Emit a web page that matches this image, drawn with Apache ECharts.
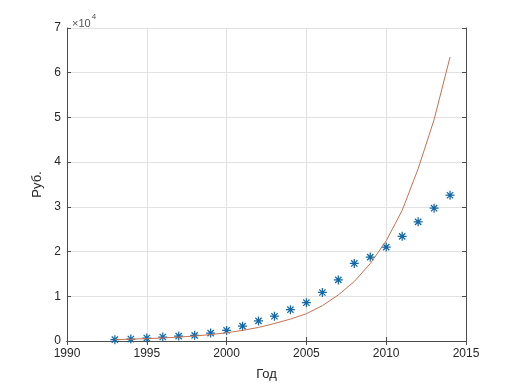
<!DOCTYPE html>
<html>
<head>
<meta charset="utf-8">
<script src="https://cdn.jsdelivr.net/npm/echarts@6/dist/echarts.min.js"></script>
<style>html,body{margin:0;padding:0;background:#fff;}#c{width:515px;height:386px;}</style>
</head>
<body>
<div id="c"></div>
<script>
// Data
var years = [1993,1994,1995,1996,1997,1998,1999,2000,2001,2002,2003,2004,2005,2006,2007,2008,2009,2010,2011,2012,2013,2014];
var actual = [300,440,660,890,1100,1260,1770,2360,3320,4500,5540,7000,8570,10850,13670,17350,18760,21000,23400,26650,29700,32600];
var fitted = [320,410,525,675,870,1115,1430,1840,2370,3040,3910,4900,6100,7900,10300,13300,17300,22400,29200,38500,49500,63500];
var xTicks = [1990,1995,2000,2005,2010,2015];
var yTicks = [0,1,2,3,4,5,6,7];

var axisColor = '#4d4d4d';
var textColor = '#262626';
var font = 'Liberation Sans, Arial, sans-serif';

var star = 'path://M-0.7,-5L0.7,-5L0.7,5L-0.7,5Z M-5,-0.7L5,-0.7L5,0.7L-5,0.7Z M-3.005,-3.995L3.995,3.005L3.005,3.995L-3.995,-3.005Z M3.995,-3.005L-3.005,3.995L-3.995,3.005L3.005,-3.995Z';

var chart = echarts.init(document.getElementById('c'), null, {renderer: 'canvas'});
var common = {
  axisLine: {show: true, lineStyle: {color: axisColor, width: 1}},
  axisTick: {show: true, inside: true, length: 4, lineStyle: {color: axisColor}},
};
chart.setOption({
  animation: false,
  backgroundColor: '#fff',
  grid: {left: 67, top: 28, right: 49, bottom: 42, containLabel: false},
  title: {
    text: '{a|×10}{b|4}',
    left: 67, top: 8,
    textStyle: {fontWeight: 'normal', rich: {
      a: {fontFamily: font, fontSize: 11, fontWeight: 'normal', color: '#555', verticalAlign: 'bottom', lineHeight: 16},
      b: {fontFamily: font, fontSize: 8, fontWeight: 'normal', color: '#555', verticalAlign: 'top', lineHeight: 16, padding: [0,0,7,1]}
    }}
  },
  xAxis: [
    Object.assign({
      type: 'value', min: xTicks[0], max: xTicks[xTicks.length-1], interval: 5,
      position: 'bottom',
      name: 'Год', nameLocation: 'middle', nameGap: 27,
      nameTextStyle: {fontFamily: font, fontSize: 13, color: textColor},
      axisLabel: {fontFamily: font, fontSize: 12, color: textColor, margin: 7,
        formatter: function(v){ return String(v); }},
      splitLine: {show: true, lineStyle: {color: '#e2e2e2', width: 1}}
    }, common),
    Object.assign({
      type: 'value', min: xTicks[0], max: xTicks[xTicks.length-1], interval: 5,
      position: 'top', axisLabel: {show: false}, splitLine: {show: false}
    }, common)
  ],
  yAxis: [
    Object.assign({
      type: 'value', min: 0, max: yTicks[yTicks.length-1]*10000, interval: 10000,
      position: 'left',
      name: 'Руб.', nameLocation: 'middle', nameGap: 17,
      nameTextStyle: {fontFamily: font, fontSize: 13, color: textColor},
      axisLabel: {fontFamily: font, fontSize: 12, color: textColor, margin: 6,
        formatter: function(v){ return String(v/10000); }},
      splitLine: {show: true, lineStyle: {color: '#e2e2e2', width: 1}}
    }, common),
    Object.assign({
      type: 'value', min: 0, max: yTicks[yTicks.length-1]*10000, interval: 10000,
      position: 'right', axisLabel: {show: false}, splitLine: {show: false}
    }, common)
  ],
  series: [
    {
      type: 'scatter',
      data: years.map(function(y,i){ return [y, actual[i]]; }),
      symbol: star, symbolSize: 9,
      itemStyle: {color: '#1369a8', opacity: 1},
      z: 3
    },
    {
      type: 'line',
      data: years.map(function(y,i){ return [y, fitted[i]]; }),
      smooth: false, showSymbol: false, symbol: 'none',
      lineStyle: {color: '#c8704f', width: 1},
      z: 4
    }
  ]
});
</script>
</body>
</html>
